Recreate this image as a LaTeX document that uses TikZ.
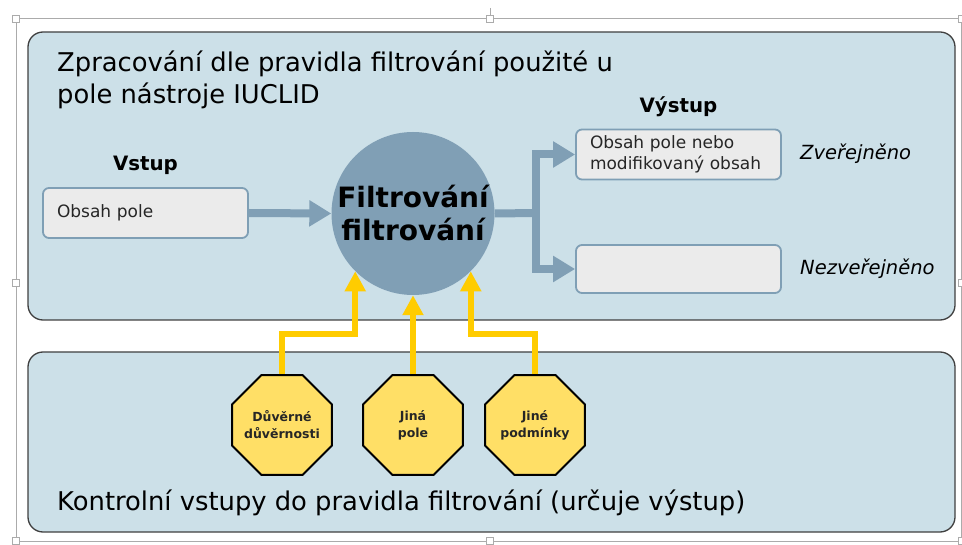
\documentclass[tikz,border=0pt]{standalone}
\usepackage{fontspec}
\setmainfont{DejaVu Sans}
\usetikzlibrary{arrows.meta,shapes.geometric}

\definecolor{panelbg}{HTML}{CCE0E8}
\definecolor{filtblue}{HTML}{809FB5}
\definecolor{boxedge}{HTML}{7F9FB5}
\definecolor{boxbg}{HTML}{EBEBEB}
\definecolor{octfill}{HTML}{FFDF66}
\definecolor{ctrlyellow}{HTML}{FFCC00}
\definecolor{selgray}{HTML}{ABABAB}

\begin{document}
\begin{tikzpicture}[x=1pt,y=-1pt,
  panel/.style={draw=black!75, line width=1.3pt, fill=panelbg, rounded corners=15pt},
  fieldbox/.style={draw=boxedge, line width=1.8pt, fill=boxbg, rounded corners=6pt,
    text width=177pt, inner xsep=14pt, inner ysep=0pt, minimum height=50pt,
    align=left, text=black!85, font=\fontsize{17}{21}\selectfont},
  octo/.style={regular polygon, regular polygon sides=8, minimum size=108pt,
    inner sep=0pt, draw=black, line width=2pt, fill=octfill},
  octtext/.style={inner sep=0pt, align=center, text=black!85,
    font=\fontsize{12.5}{17}\selectfont\bfseries},
  headtext/.style={inner sep=0pt, font=\fontsize{19.8}{24}\selectfont\bfseries},
  statetext/.style={anchor=west, inner sep=0pt, font=\fontsize{19.5}{24}\selectfont\itshape},
  bigtext/.style={inner sep=0pt, align=left, font=\fontsize{25.8}{32}\selectfont},
  bluearrow/.style={draw=filtblue, line width=8pt, -{Triangle[width=25pt,length=22pt]}},
  yarrow/.style={draw=ctrlyellow, line width=6pt, -{Triangle[width=20pt,length=20pt]}},
  handle/.style={draw=selgray, fill=white, line width=0.8pt, minimum size=7pt, inner sep=0pt}]

  \useasboundingbox (0,0) rectangle (962,545);

  %% selection frame
  \draw[selgray, line width=1pt] (490,8) -- (490,19);
  \draw[selgray, line width=1pt] (961,19) -- (16,19) -- (16,541) -- (961,541) -- cycle;
  \foreach \hx/\hy in {16/19, 490/19, 962/19, 16/283, 962/283, 16/541, 490/541, 962/541}
    \node[handle] at (\hx,\hy) {};

  %% panels
  \draw[panel] (28,32) rectangle (955,320);
  \draw[panel] (28,352) rectangle (955,532);

  \node[bigtext, anchor=north west] (proctitle) at (57,51)
    {Zpracování dle pravidla filtrování použité u\\pole nástroje IUCLID};
  \node[bigtext, anchor=west] (ctrltitle) at (57,503)
    {Kontrolní vstupy do pravidla filtrování (určuje výstup)};

  %% input, filter, outputs
  \node[fieldbox] (infield) at (145.5,213) {Obsah pole};
  \node[headtext] (inhead) at (145.5,165) {Vstup};

  \node[circle, fill=filtblue, minimum size=163pt, inner sep=0pt, align=center,
    font=\fontsize{28}{33}\selectfont\bfseries] (filt) at (413,213.5)
    {Filtrování\\filtrování};

  \node[fieldbox] (outpub) at (678.5,154.5) {Obsah pole nebo\\modifikovaný obsah};
  \node[fieldbox, minimum height=48pt] (outhid) at (678.5,269) {};
  \node[headtext] (outhead) at (678.5,107) {Výstup};

  \node[statetext] (pubtext) at (800,154) {Zveřejněno};
  \node[statetext] (hidtext) at (800,269) {Nezveřejněno};

  \coordinate (branch) at (536,213);
  \draw[bluearrow] (infield.east) -- (filt.west);
  \draw[draw=filtblue, line width=8pt] (filt.east) -- (branch);
  \draw[bluearrow] (branch) |- (outpub.west);
  \draw[bluearrow] (branch) |- (outhid.west);

  %% control inputs
  \node[octo, label={[octtext]center:Důvěrné\\důvěrnosti}] (conf) at (282,425) {};
  \node[octo, label={[octtext]center:Jiná\\pole}] (otherfld) at (413,425) {};
  \node[octo, label={[octtext]center:Jiné\\podmínky}] (othercond) at (535,425) {};

  \draw[yarrow] (conf.north) -- ++(0,-40) -| (filt.-135);
  \draw[yarrow] (otherfld.north) -- (filt.south);
  \draw[yarrow] (othercond.north) -- ++(0,-40) -| (filt.-45);

\end{tikzpicture}
\end{document}
